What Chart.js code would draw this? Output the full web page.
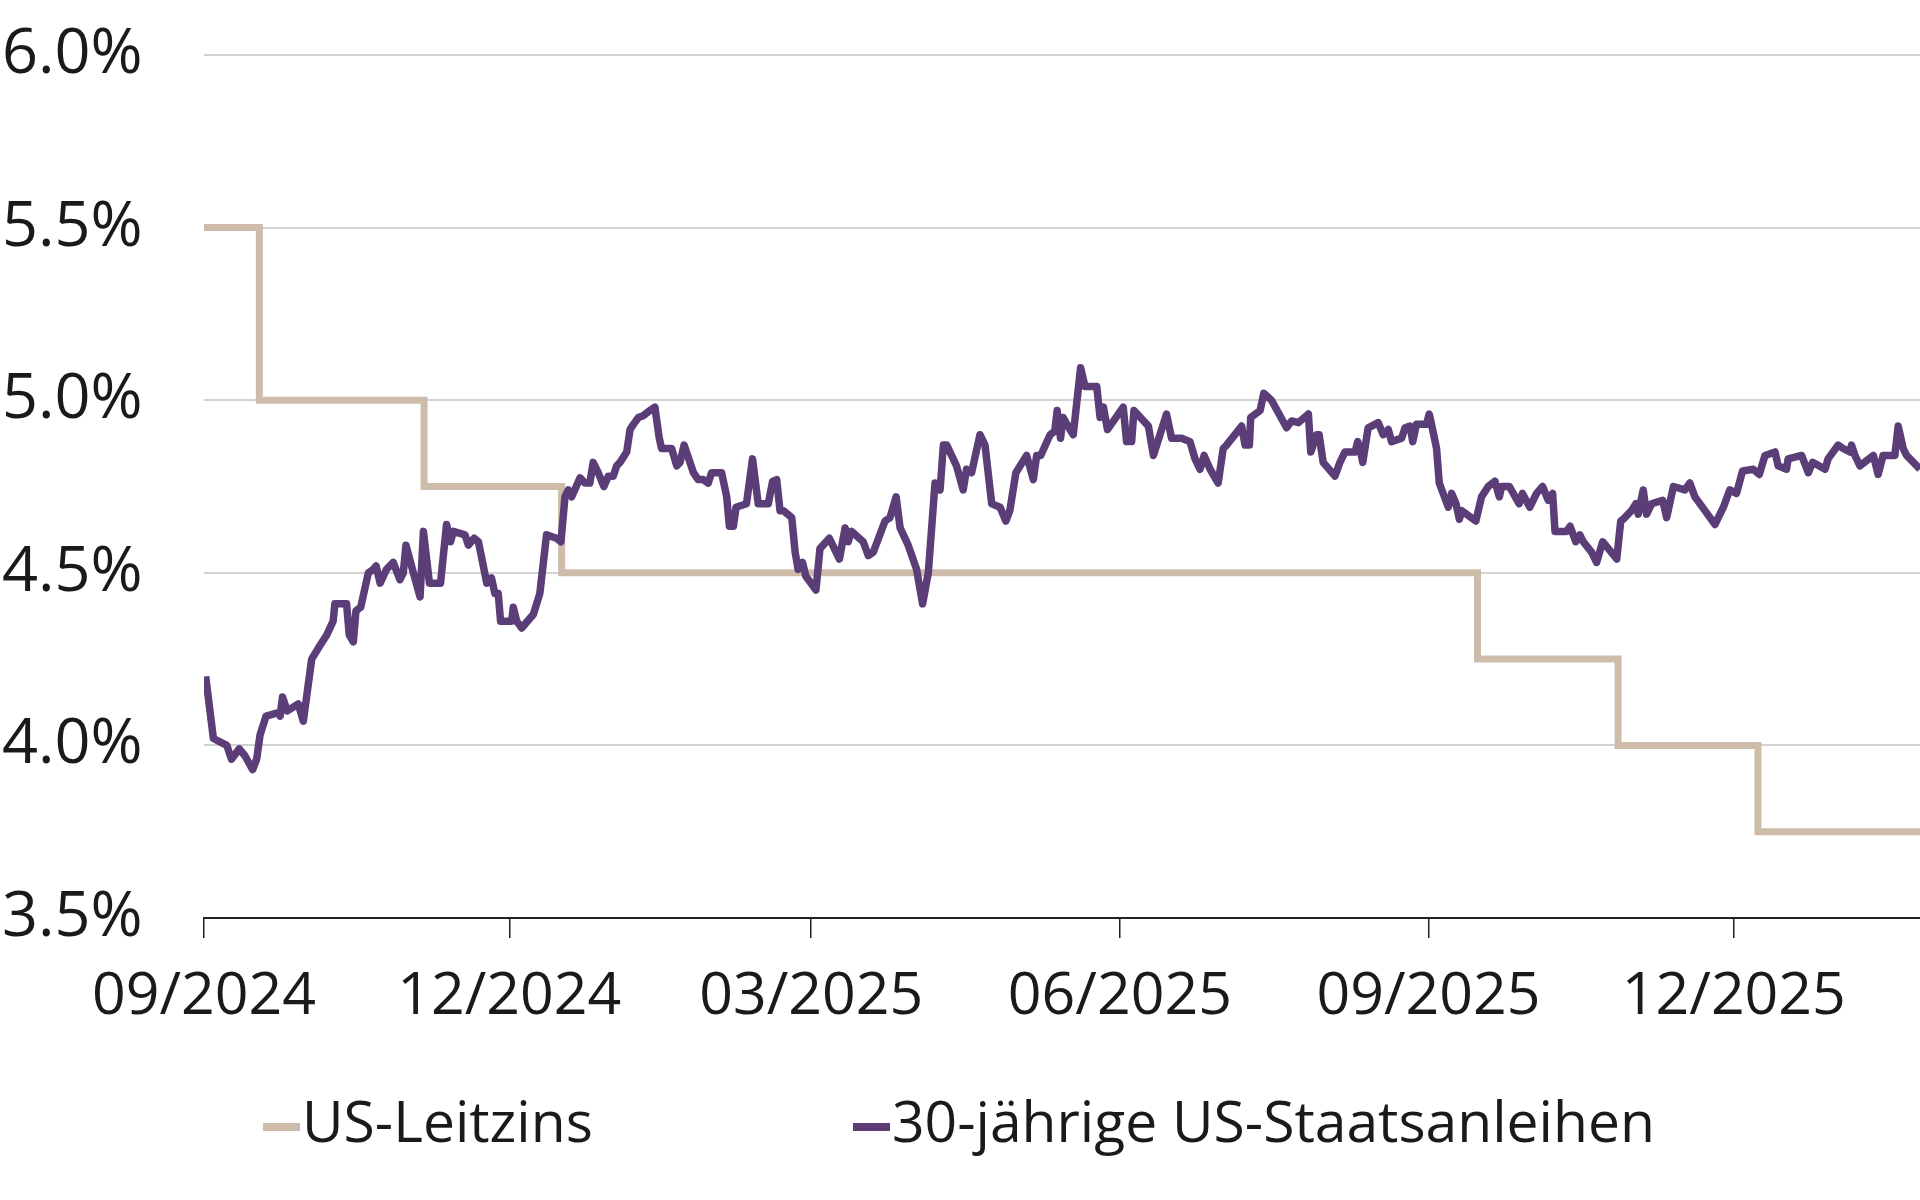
<!DOCTYPE html>
<html>
<head>
<meta charset="utf-8">
<script src="https://cdn.jsdelivr.net/npm/chart.js@4.4.1/dist/chart.umd.min.js"></script>
<style>
  html, body { margin: 0; padding: 0; background: #fff; }
  #wrap { position: relative; width: 1920px; height: 1200px; }
  #chart { display: block; }
  .lg-mark { position: absolute; top: 1123px; width: 37px; height: 8px; }
  .lg-text { position: absolute; top: 1091px; font-family: 'Open Sans', sans-serif; font-size: 57px; line-height: 58px; color: #1a1a1a; white-space: nowrap; }
</style>
</head>
<body>
<div id="wrap">
  <canvas id="chart" width="1920" height="1200"></canvas>
  <div class="lg-mark" style="left:263px;background:#cdbcaa"></div>
  <div class="lg-text" style="left:302px">US-Leitzins</div>
  <div class="lg-mark" style="left:853px;background:#5b3e77"></div>
  <div class="lg-text" style="left:892px">30-jährige US-Staatsanleihen</div>
</div>
<script>
// x values are days since 2024-09-01
const tickDays = [0, 91, 181, 273, 365, 456];
const tickLabels = ['09/2024', '12/2024', '03/2025', '06/2025', '09/2025', '12/2025'];
const lastDay = 511.5;

// Fed funds rate (upper bound), step changes
const fedDays = [0, 16.5, 65.6, 106.6, 379.6, 421.5, 463.2, 511.5];
const fedRates = [5.5, 5.0, 4.75, 4.5, 4.25, 4.0, 3.75, 3.75];

// 30y treasury yield
const yieldDays = [
  0.5, 2.8, 6.8, 8.2, 10.5, 12.2, 14.5, 15.7, 16.7, 18.5,
  22.2, 22.7, 23.4, 24.8, 28.1, 29.6, 32.1, 34.6, 36.6, 38.5,
  39.0, 42.5, 43.3, 44.5, 45.3, 46.7, 49.0, 50.5, 51.3, 52.5,
  54.4, 56.4, 58.4, 59.4, 60.2, 62.4, 64.4, 65.4, 67.2, 70.5,
  72.3, 73.5, 74.3, 77.8, 78.8, 80.5, 81.8, 84.3, 85.7, 86.7,
  87.7, 88.4, 91.7, 92.2, 93.2, 94.7, 98.2, 100.1, 102.1, 105.1,
  106.4, 107.6, 108.6, 109.6, 112.1, 113.6, 115.0, 116.0, 117.5, 119.2,
  120.5, 122.0, 123.0, 124.0, 126.0, 127.0, 128.0, 129.5, 130.9, 132.9,
  134.4, 135.7, 136.4, 139.4, 140.9, 141.9, 143.1, 145.9, 147.3, 148.8,
  150.3, 151.3, 154.3, 155.8, 156.6, 157.8, 158.6, 161.7, 163.5, 165.2,
  168.2, 169.5, 170.7, 171.7, 172.7, 175.2, 176.2, 177.1, 178.4, 179.4,
  182.4, 183.6, 186.4, 189.4, 191.1, 192.0, 193.0, 196.5, 198.0, 199.5,
  203.0, 204.5, 206.3, 207.5, 209.9, 212.4, 214.2, 215.9, 217.9, 219.4,
  220.4, 221.4, 224.3, 226.3, 227.3, 228.8, 231.3, 232.8, 234.8, 237.3,
  239.0, 240.2, 242.0, 245.2, 247.2, 248.2, 249.4, 252.2, 253.6, 254.3,
  255.3, 256.1, 258.1, 259.1, 261.3, 262.6, 266.1, 267.1, 268.1, 269.3,
  274.0, 275.0, 276.5, 277.2, 281.5, 283.0, 286.9, 288.4, 291.4, 293.9,
  295.4, 296.9, 298.1, 299.9, 302.3, 303.8, 304.8, 309.3, 310.3, 311.6,
  312.0, 314.8, 315.9, 318.2, 322.7, 324.2, 326.2, 329.2, 329.9, 331.6,
  332.4, 333.6, 337.1, 338.6, 340.1, 343.1, 343.9, 344.6, 345.4, 347.0,
  350.0, 351.5, 353.0, 354.0, 357.0, 358.0, 359.5, 360.3, 361.4, 364.4,
  365.2, 365.9, 367.4, 368.2, 370.9, 371.9, 373.2, 374.2, 374.9, 379.1,
  380.8, 382.8, 384.8, 386.1, 386.8, 389.1, 392.0, 393.0, 395.2, 397.2,
  399.0, 400.7, 402.0, 402.7, 406.2, 407.2, 408.9, 410.1, 411.1, 413.6,
  415.1, 416.9, 421.1, 422.3, 423.0, 425.5, 426.8, 427.5, 429.0, 430.0,
  431.5, 434.8, 436.0, 438.0, 441.4, 442.9, 444.4, 447.4, 450.4, 452.9,
  454.8, 456.8, 458.6, 461.8, 463.6, 465.3, 468.3, 469.2, 471.7, 472.2,
  476.2, 478.2, 479.5, 483.2, 484.1, 487.1, 488.6, 490.6, 491.1, 492.1,
  493.6, 497.6, 499.0, 500.5, 504.0, 505.0, 506.5, 507.5, 511.5
];
const yieldValues = [
  4.20, 4.02, 4.00, 3.96, 3.99, 3.97, 3.93, 3.96, 4.03, 4.085,
  4.095, 4.085, 4.14, 4.10, 4.12, 4.07, 4.25, 4.29, 4.32, 4.36,
  4.41, 4.41, 4.32, 4.30, 4.39, 4.40, 4.50, 4.51, 4.52, 4.47,
  4.51, 4.53, 4.48, 4.50, 4.58, 4.50, 4.43, 4.62, 4.47, 4.47,
  4.64, 4.59, 4.62, 4.61, 4.58, 4.60, 4.59, 4.47, 4.485, 4.44,
  4.44, 4.36, 4.36, 4.40, 4.36, 4.34, 4.38, 4.44, 4.61, 4.60,
  4.59, 4.72, 4.74, 4.72, 4.775, 4.76, 4.76, 4.82, 4.79, 4.75,
  4.78, 4.78, 4.81, 4.82, 4.85, 4.915, 4.93, 4.95, 4.955, 4.97,
  4.98, 4.89, 4.86, 4.86, 4.81, 4.82, 4.87, 4.79, 4.77, 4.77,
  4.76, 4.79, 4.79, 4.72, 4.635, 4.635, 4.69, 4.70, 4.83, 4.70,
  4.70, 4.765, 4.77, 4.68, 4.68, 4.66, 4.56, 4.51, 4.53, 4.49,
  4.45, 4.57, 4.60, 4.54, 4.63, 4.59, 4.62, 4.59, 4.55, 4.56,
  4.65, 4.66, 4.72, 4.63, 4.58, 4.51, 4.41, 4.50, 4.76, 4.74,
  4.87, 4.87, 4.81, 4.74, 4.80, 4.79, 4.90, 4.87, 4.70, 4.69,
  4.65, 4.68, 4.79, 4.84, 4.77, 4.84, 4.84, 4.90, 4.91, 4.97,
  4.89, 4.95, 4.915, 4.90, 5.094, 5.04, 5.04, 4.95, 4.98, 4.915,
  4.98, 4.88, 4.88, 4.97, 4.925, 4.84, 4.96, 4.89, 4.89, 4.88,
  4.83, 4.80, 4.84, 4.80, 4.76, 4.86, 4.87, 4.925, 4.87, 4.87,
  4.95, 4.97, 5.02, 5.00, 4.92, 4.94, 4.935, 4.96, 4.85, 4.90,
  4.90, 4.82, 4.78, 4.82, 4.85, 4.85, 4.88, 4.86, 4.82, 4.92,
  4.935, 4.90, 4.915, 4.88, 4.89, 4.92, 4.925, 4.88, 4.93, 4.93,
  4.96, 4.93, 4.86, 4.76, 4.69, 4.73, 4.70, 4.655, 4.68, 4.65,
  4.72, 4.75, 4.765, 4.72, 4.75, 4.75, 4.70, 4.73, 4.69, 4.73,
  4.75, 4.71, 4.73, 4.62, 4.62, 4.635, 4.59, 4.61, 4.59, 4.56,
  4.53, 4.59, 4.54, 4.65, 4.655, 4.68, 4.70, 4.67, 4.74, 4.67,
  4.70, 4.71, 4.66, 4.75, 4.74, 4.76, 4.72, 4.68, 4.64, 4.69,
  4.74, 4.73, 4.795, 4.80, 4.785, 4.84, 4.85, 4.81, 4.80, 4.83,
  4.84, 4.79, 4.82, 4.80, 4.83, 4.87, 4.86, 4.85, 4.87, 4.84,
  4.81, 4.84, 4.785, 4.84, 4.84, 4.925, 4.86, 4.84, 4.80
];

const fedData = fedDays.map((d, i) => ({ x: d, y: fedRates[i] }));
const yieldData = yieldDays.map((d, i) => ({ x: d, y: yieldValues[i] }));

new Chart(document.getElementById('chart'), {
  type: 'line',
  data: {
    datasets: [
      {
        label: 'US-Leitzins',
        data: fedData,
        borderColor: '#cdbcaa',
        borderWidth: 7,
        stepped: 'before',
        pointRadius: 0,
        order: 2,
      },
      {
        label: '30-jährige US-Staatsanleihen',
        data: yieldData,
        borderColor: '#5b3e77',
        borderWidth: 7.5,
        borderJoinStyle: 'round',
        tension: 0,
        pointRadius: 0,
        order: 1,
      },
    ],
  },
  options: {
    responsive: false,
    animation: false,
    layout: { padding: { left: 2, top: 55, right: 0, bottom: 162 } },
    plugins: { legend: { display: false }, tooltip: { enabled: false } },
    scales: {
      x: {
        type: 'linear',
        min: 0,
        max: lastDay,
        afterBuildTicks: s => { s.ticks = tickDays.map(v => ({ value: v })); },
        afterFit: s => { s.height = 120; },
        ticks: {
          autoSkip: false,
          maxRotation: 0,
          padding: 24,
          color: '#1a1a1a',
          font: { family: 'Open Sans', size: 59 },
          callback: (v, i) => tickLabels[i],
        },
        grid: { drawOnChartArea: false, drawTicks: true, tickLength: 20, color: '#222', lineWidth: 1.5 },
        border: { display: true, color: '#222', width: 2 },
      },
      y: {
        min: 3.5,
        max: 6.0,
        afterBuildTicks: s => { s.ticks = [3.5, 4.0, 4.5, 5.0, 5.5, 6.0].map(v => ({ value: v })); },
        afterFit: s => { s.width = 202; },
        ticks: {
          padding: 0,
          crossAlign: 'far',
          color: '#1a1a1a',
          font: { family: 'Open Sans', size: 63 },
          callback: v => v.toFixed(1) + '%',
        },
        grid: {
          drawTicks: false,
          lineWidth: 2,
          color: c => (c.tick && c.tick.value === 3.5 ? 'rgba(0,0,0,0)' : '#d2d2d2'),
        },
        border: { display: false },
      },
    },
  },
});
</script>
</body>
</html>
